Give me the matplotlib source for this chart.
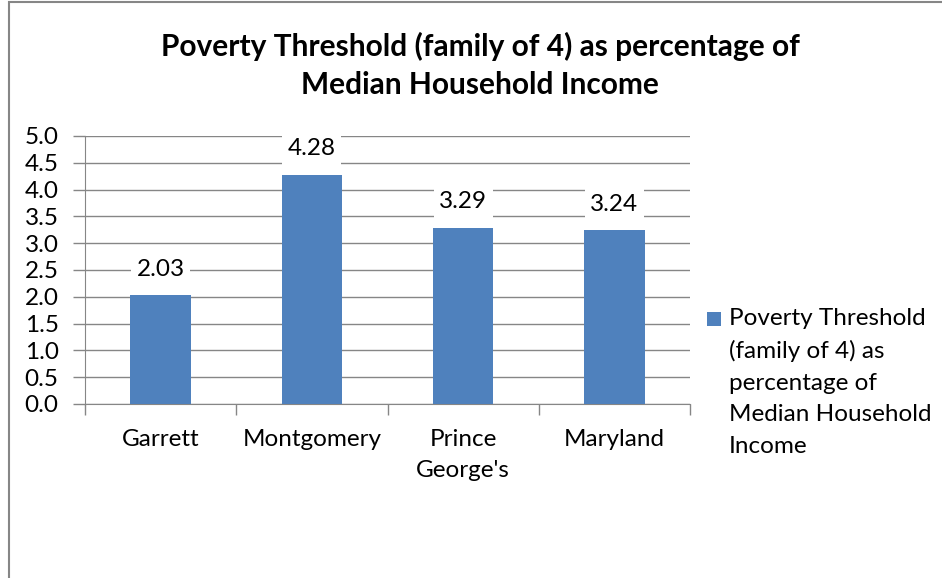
import matplotlib.pyplot as plt
from matplotlib.patches import Rectangle

categories = ['Garrett', 'Montgomery', "Prince\nGeorge's", 'Maryland']
values = [2.03, 4.28, 3.29, 3.24]
series_name = 'Poverty Threshold\n(family of 4) as\npercentage of\nMedian Household\nIncome'
title = 'Poverty Threshold (family of 4) as percentage of\nMedian Household Income'
yticks = [0.0, 0.5, 1.0, 1.5, 2.0, 2.5, 3.0, 3.5, 4.0, 4.5, 5.0]

plt.rcParams['font.family'] = ['Lato', 'DejaVu Sans']
bar_color = '#4F81BD'
grid_color = '#868686'
fs = 17.5

fig = plt.figure(figsize=(9.42, 5.78), dpi=100)
ax = fig.add_axes([85 / 942, 1 - 404 / 578, 605 / 942, 268 / 578])

x = list(range(len(categories)))
bars = ax.bar(x, values, width=0.4, color=bar_color, zorder=3)
for xi, v in zip(x, values):
    ax.text(xi, v + 0.48, f'{v:.2f}', ha='center', va='center', fontsize=fs,
            bbox=dict(facecolor='white', edgecolor='none', pad=4), zorder=4)

ax.set_xlim(-0.5, len(categories) - 0.5)
ax.set_ylim(0, 5)
ax.set_yticks(yticks)
ax.set_yticklabels([f'{t:.1f}' for t in yticks], fontsize=fs)
ax.yaxis.grid(True, color=grid_color, linewidth=1, zorder=0)
ax.tick_params(axis='y', length=9, color=grid_color, width=1, pad=10)

ax.set_xticks(x)
ax.set_xticklabels(categories, fontsize=fs, linespacing=1.6)
ax.set_xticks([i - 0.5 for i in range(len(categories) + 1)], minor=True)
ax.tick_params(axis='x', which='major', length=0, pad=18)
ax.tick_params(axis='x', which='minor', length=8, color=grid_color, width=1)

for side in ['top', 'right']:
    ax.spines[side].set_visible(False)
for side in ['left', 'bottom']:
    ax.spines[side].set_color(grid_color)

fig.suptitle(title, x=480 / 942, y=1 - 32 / 578, fontsize=21.5, fontweight='bold',
             linespacing=1.45, va='top')

# legend entry
fig.patches.append(Rectangle((707 / 942, 1 - 326 / 578), 14 / 942, 14 / 578,
                             transform=fig.transFigure, facecolor=bar_color,
                             edgecolor='none'))
fig.text(729 / 942, 1 - 308 / 578, series_name, fontsize=fs, va='top', ha='left',
         linespacing=1.62)

# chart border (partly outside the picture)
fig.patches.append(Rectangle((8.5 / 942, -0.1), 1.2, 1 - 2.5 / 578 + 0.1,
                             transform=fig.transFigure, facecolor='none',
                             edgecolor=grid_color, linewidth=1.5))

plt.savefig('out.png', dpi=100)
